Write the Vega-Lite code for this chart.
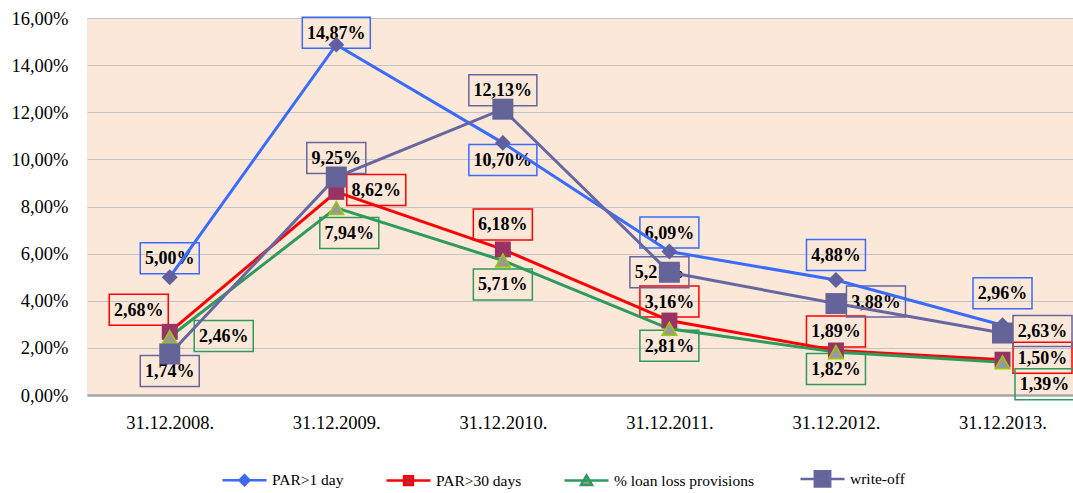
{
  "$schema": "https://vega.github.io/schema/vega-lite/v6.json",
  "width": 986,
  "height": 377,
  "autosize": {"type": "none"},
  "padding": {"left": 87, "top": 18, "right": 0, "bottom": 98},
  "background": "white",
  "config": {
    "view": {"fill": "#FCE8D9", "stroke": null},
    "font": "Liberation Serif"
  },
  "params": [
    {"name": "offX", "value": {"n": 0, "N": 0, "NN": 0, "NNN": 0, "S": 0, "SS": 0, "SSE": 13, "NW": -31, "E": 40, "EE": 54, "SE": 42, "W": -10}},
    {"name": "offY", "value": {"n": -12, "N": -19, "NN": -25, "NNN": -32, "S": 17, "SS": 24, "SSE": 25, "NW": -22, "E": -2, "EE": -1, "SE": 22, "W": 0}}
  ],
  "data": {
    "values": [
      {"date": "31.12.2008.", "series": "PAR>1 day", "value": 0.0500, "pos": "N"},
      {"date": "31.12.2009.", "series": "PAR>1 day", "value": 0.1487, "pos": "n"},
      {"date": "31.12.2010.", "series": "PAR>1 day", "value": 0.1070, "pos": "S"},
      {"date": "31.12.2011.", "series": "PAR>1 day", "value": 0.0609, "pos": "N"},
      {"date": "31.12.2012.", "series": "PAR>1 day", "value": 0.0488, "pos": "NN"},
      {"date": "31.12.2013.", "series": "PAR>1 day", "value": 0.0296, "pos": "NNN"},
      {"date": "31.12.2008.", "series": "PAR>30 days", "value": 0.0268, "pos": "NW"},
      {"date": "31.12.2009.", "series": "PAR>30 days", "value": 0.0862, "pos": "E"},
      {"date": "31.12.2010.", "series": "PAR>30 days", "value": 0.0618, "pos": "NN"},
      {"date": "31.12.2011.", "series": "PAR>30 days", "value": 0.0316, "pos": "N"},
      {"date": "31.12.2012.", "series": "PAR>30 days", "value": 0.0189, "pos": "N"},
      {"date": "31.12.2013.", "series": "PAR>30 days", "value": 0.0150, "pos": "E"},
      {"date": "31.12.2008.", "series": "%  loan loss provisions", "value": 0.0246, "pos": "EE"},
      {"date": "31.12.2009.", "series": "%  loan loss provisions", "value": 0.0794, "pos": "SSE"},
      {"date": "31.12.2010.", "series": "%  loan loss provisions", "value": 0.0571, "pos": "SS"},
      {"date": "31.12.2011.", "series": "%  loan loss provisions", "value": 0.0281, "pos": "S"},
      {"date": "31.12.2012.", "series": "%  loan loss provisions", "value": 0.0182, "pos": "S"},
      {"date": "31.12.2013.", "series": "%  loan loss provisions", "value": 0.0139, "pos": "SE"},
      {"date": "31.12.2008.", "series": "write-off", "value": 0.0174, "pos": "S"},
      {"date": "31.12.2009.", "series": "write-off", "value": 0.0925, "pos": "N"},
      {"date": "31.12.2010.", "series": "write-off", "value": 0.1213, "pos": "N"},
      {"date": "31.12.2011.", "series": "write-off", "value": 0.0521, "pos": "W"},
      {"date": "31.12.2012.", "series": "write-off", "value": 0.0388, "pos": "E"},
      {"date": "31.12.2013.", "series": "write-off", "value": 0.0263, "pos": "E"}
    ]
  },
  "encoding": {
    "x": {
      "field": "date", "type": "ordinal", "sort": null,
      "scale": {"type": "point", "padding": 0.46, "align": 0.54},
      "axis": {"title": null, "labelAngle": 0, "labelFont": "Liberation Serif", "labelFontSize": 18.5, "labelColor": "black", "labelPadding": 18, "ticks": false, "grid": false, "domain": true, "domainColor": "#A6A6A6", "domainWidth": 2.5}
    },
    "y": {
      "field": "value", "type": "quantitative",
      "scale": {"domain": [0, 0.16], "nice": false, "zero": true},
      "axis": {"title": null, "values": [0, 0.02, 0.04, 0.06, 0.08, 0.1, 0.12, 0.14, 0.16], "labelExpr": "replace(format(datum.value, '.2%'), '.', ',')", "labelFont": "Liberation Serif", "labelFontSize": 18.5, "labelColor": "black", "labelPadding": 19, "ticks": false, "domain": false, "grid": true, "gridColor": "#C4C4C4", "gridWidth": 1}
    }
  },
  "layer": [
    {
      "mark": {"type": "point", "filled": false, "size": 4, "strokeWidth": 1.5, "opacity": 1,
        "shape": {"expr": "'M' + (offX[datum.pos] - (datum.value >= 0.1 ? 34 : 29.5)) + ',' + (offY[datum.pos] - 15.5) + 'h' + (datum.value >= 0.1 ? 68 : 59) + 'v31h' + (datum.value >= 0.1 ? -68 : -59) + 'Z'"}},
      "encoding": {
        "stroke": {"field": "series", "type": "nominal"}
      }
    },
    {
      "transform": [{"calculate": "replace(format(datum.value, '.2%'), '.', ',')", "as": "label"}],
      "mark": {"type": "text", "font": "Liberation Serif", "fontWeight": "bold", "fontSize": 18, "color": "black", "align": "center", "baseline": "middle",
        "dx": {"expr": "offX[datum.pos]"}, "dy": {"expr": "offY[datum.pos] + 1"}},
      "encoding": {"text": {"field": "label"}}
    },
    {
      "mark": {"type": "line", "strokeWidth": 3},
      "encoding": {
        "stroke": {
          "field": "series", "type": "nominal",
          "scale": {"domain": ["PAR>1 day", "PAR>30 days", "%  loan loss provisions", "write-off"], "range": ["#3A6BFF", "#FF0000", "#2E9A5C", "#6666A0"]},
          "legend": {
            "title": null, "orient": "none", "legendX": 134, "legendY": 437, "direction": "horizontal", "columns": 4,
            "labelFont": "Liberation Serif", "labelFontSize": 15.5, "labelColor": "black", "labelOffset": 4, "columnPadding": 37,
            "symbolSize": 1936, "symbolStrokeWidth": 2.5,
            "encode": {"symbols": {"update": {
              "shape": {"signal": "datum.value === 'PAR>1 day' ? 'M-1,0H1M0,-0.23L0.23,0L0,0.23L-0.23,0Z' : datum.value === 'PAR>30 days' ? 'M-1,0H1M-0.2,-0.2H0.2V0.2H-0.2Z' : datum.value === 'write-off' ? 'M-1,0H1M-0.35,-0.35H0.35V0.35H-0.35Z' : 'M-1,0H1M0,-0.23L0.25,0.2H-0.25Z'"},
              "fill": {"signal": "datum.value === 'PAR>1 day' ? '#6060A0' : datum.value === 'PAR>30 days' ? '#993366' : datum.value === 'write-off' ? '#646499' : '#999999'"},
              "strokeWidth": {"value": 2.5},
              "opacity": {"value": 1}
            }}}
          }
        }
      }
    },
    {
      "mark": {"type": "point", "filled": true, "size": 441, "opacity": 1, "strokeWidth": 1.5,
        "shape": {"expr": "datum.series === 'PAR>1 day' ? 'M0,-0.76L0.76,0L0,0.76L-0.76,0Z' : datum.series === 'PAR>30 days' ? 'M-0.76,-0.76H0.76V0.76H-0.76Z' : datum.series === 'write-off' ? 'M-1,-1H1V1H-1Z' : 'M0,-0.62L0.7,0.62H-0.7Z'"},
        "fill": {"expr": "datum.series === 'PAR>1 day' ? '#6060A0' : datum.series === 'PAR>30 days' ? '#993366' : datum.series === 'write-off' ? '#646499' : '#999999'"},
        "stroke": {"expr": "datum.series === '%  loan loss provisions' ? '#99CC00' : 'transparent'"}}
    }
  ]
}
